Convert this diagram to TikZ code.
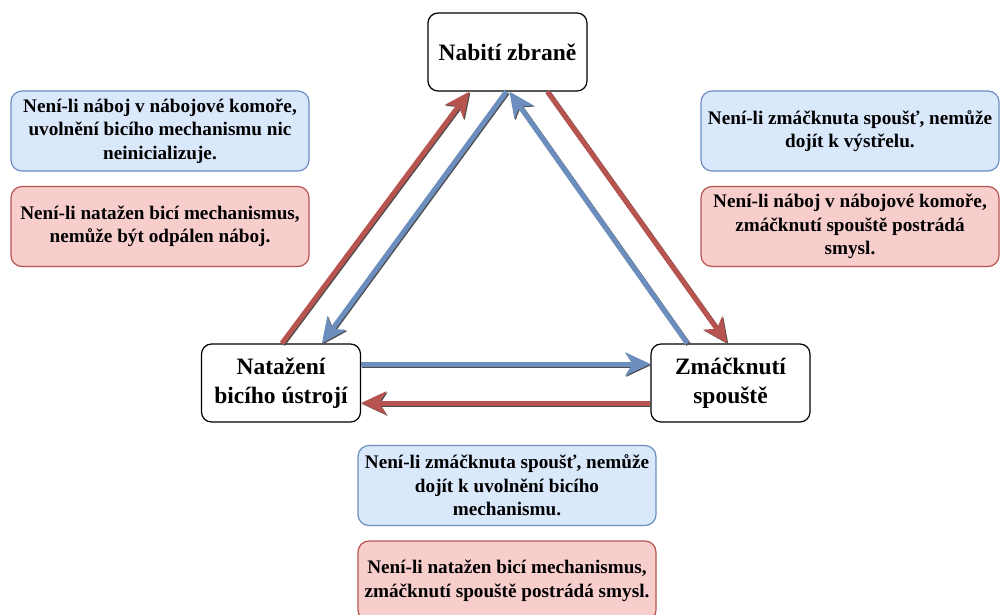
\documentclass[tikz,border=0pt]{standalone}
\usepackage{fontspec}
\setmainfont{Liberation Serif}
\usetikzlibrary{arrows.meta,calc}
\definecolor{bfill}{HTML}{DAE8FC}
\definecolor{bline}{HTML}{6C8EBF}
\definecolor{rfill}{HTML}{F8CECC}
\definecolor{rline}{HTML}{B85450}
\tikzset{
  mainbox/.style={draw=black, line width=1.2pt, fill=white, rounded corners=10pt,
    minimum width=159pt, minimum height=78pt, inner sep=0pt, align=center,
    font=\fontsize{23.5}{29}\selectfont\bfseries},
  infobox/.style={rounded corners=11pt, line width=1.2pt, inner sep=0pt,
    align=center, minimum width=298pt, minimum height=80pt,
    font=\fontsize{19.2}{23.5}\selectfont\bfseries},
  bluebox/.style={infobox, draw=bline, fill=bfill},
  redbox/.style={infobox, draw=rline, fill=rfill},
  flow/.style={line width=5pt, -{Stealth[length=25pt,width=23pt,inset=7pt]},
    preaction={draw=black!70, line width=5pt, transform canvas={shift={(1pt,-1pt)}}}},
  blueflow/.style={flow, draw=bline},
  redflow/.style={flow, draw=rline},
}
\begin{document}
\begin{tikzpicture}[x=1pt,y=-1pt]
\useasboundingbox (0,0) rectangle (1000,614);
% info boxes
\node[bluebox] (lb) at (160,131) {Není-li náboj v nábojové komoře,\\ uvolnění bicího mechanismu nic\\ neinicializuje.};
\node[redbox] (lr) at (160,226.5) {Není-li natažen bicí mechanismus,\\ nemůže být odpálen náboj.};
\node[bluebox] (rb) at (850,131) {Není-li zmáčknuta spoušť, nemůže\\ dojít k výstřelu.};
\node[redbox] (rr) at (850,226.5) {Není-li náboj v nábojové komoře,\\ zmáčknutí spouště postrádá\\ smysl.};
\node[bluebox] (bb) at (507,485.5) {Není-li zmáčknuta spoušť, nemůže\\ dojít k uvolnění bicího\\ mechanismu.};
\node[redbox] (br) at (507,581) {Není-li natažen bicí mechanismus,\\ zmáčknutí spouště postrádá smysl.};
% main nodes
\node[mainbox] (nab) at (507.5,52) {Nabití zbraně};
\node[mainbox] (nat) at (281,383) {Natažení\\ bicího ústrojí};
\node[mainbox] (zma) at (730.5,383) {Zmáčknutí\\ spouště};
% arrows
\draw[redflow] ([xshift=81pt]nat.north west) -- ([xshift=42pt]nab.south west);
\draw[blueflow] ([xshift=79pt]nab.south west) -- ([xshift=121pt]nat.north west);
\draw[blueflow] ([xshift=37pt]zma.north west) -- ([xshift=82pt]nab.south west);
\draw[redflow] ([xshift=120pt]nab.south west) -- ([xshift=77pt]zma.north west);
\draw[blueflow] ([yshift=19pt]nat.east) -- ([yshift=19pt]zma.west);
\draw[redflow] ([yshift=-20pt]zma.west) -- ([yshift=-20pt]nat.east);
\end{tikzpicture}
\end{document}
